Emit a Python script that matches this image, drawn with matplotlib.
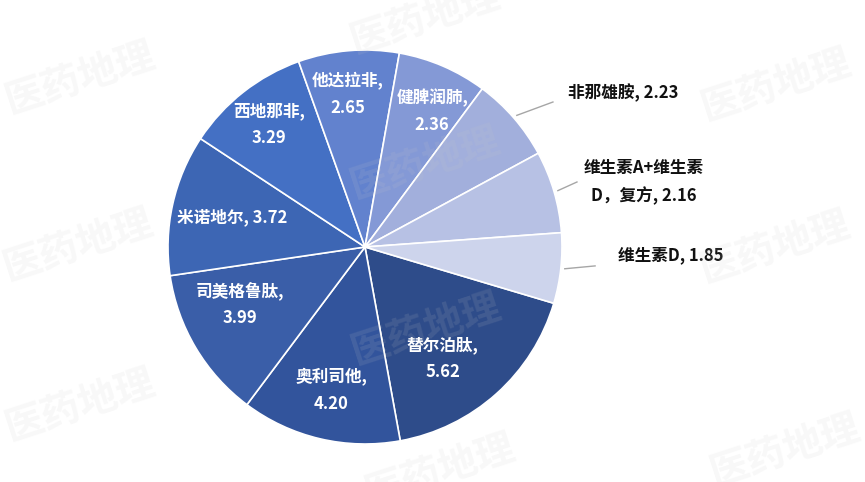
import numpy as np
import matplotlib.pyplot as plt

plt.rcParams['font.family'] = ['Noto Sans CJK SC', 'DejaVu Sans']

names = ['替尔泊肽', '奥利司他', '司美格鲁肽', '米诺地尔', '西地那非',
         '他达拉非', '健脾润肺', '非那雄胺', '维生素A+维生素D，复方', '维生素D']
values = [5.62, 4.20, 3.99, 3.72, 3.29, 2.65, 2.36, 2.23, 2.16, 1.85]
colors = ['#2E4C8A', '#32549C', '#3A5EA8', '#3D66B4', '#4470C4',
          '#6282CE', '#8499D6', '#A2AFDC', '#B7C1E4', '#CDD4EC']

# label layout: inside labels sit at radius r, nudged by angle (deg)
inside_r = [0.69, 0.75, 0.70, 0.69, 0.79, 0.78, 0.77]
inside_nudge = [-7, 0, -6, 0, 0, 1.7, -3]
# outside labels: elbow of leader line and text anchor (data units)
outside_elbow = [(0.954, 0.736), (1.076, 0.330), (1.168, -0.096)]
outside_text = [(1.030, 0.782), (1.416, 0.330), (1.284, -0.041)]
outside_ha = ['left', 'center', 'left']

R_PX = 197
fig = plt.figure(figsize=(8.65, 4.82), dpi=100)
ax = fig.add_axes([0, 0, 1, 1])
wedges, _ = ax.pie(values, colors=colors, startangle=-16.6, counterclock=False,
                   wedgeprops=dict(edgecolor='white', linewidth=1.2))
ax.set_aspect('auto')
ax.set_xlim(-365 / R_PX, 500 / R_PX)
ax.set_ylim(-235 / R_PX, 247 / R_PX)
ax.axis('off')


def put_lines(x, y, lines, color, ha='center', gap=27):
    n = len(lines)
    for i, s in enumerate(lines):
        off = (n - 1) / 2 * gap - i * gap
        ax.annotate(s, (x, y), xytext=(0, off), textcoords='offset pixels',
                    ha=ha, va='center', color=color, fontsize=12,
                    fontweight='bold')


for i, w in enumerate(wedges):
    name, v = names[i], values[i]
    mid = (w.theta1 + w.theta2) / 2
    if i < len(inside_r):
        a = np.deg2rad(mid + inside_nudge[i])
        x, y = inside_r[i] * np.cos(a), inside_r[i] * np.sin(a)
        if name == '米诺地尔':
            lines = [f'{name}, {v:.2f}']
        else:
            lines = [name + ',', f'{v:.2f}']
        put_lines(x, y, lines, 'white')
    else:
        k = i - len(inside_r)
        a = np.deg2rad(mid)
        ex, ey = outside_elbow[k]
        ax.plot([1.02 * np.cos(a), ex], [1.02 * np.sin(a), ey],
                color='#A6A6A6', lw=1)
        if len(name) > 8:
            lines = [name[:8], name[8:] + f', {v:.2f}']
        else:
            lines = [f'{name}, {v:.2f}']
        tx, ty = outside_text[k]
        put_lines(tx, ty, lines, '#111111', ha=outside_ha[k])

# watermark
marks = [(80, 78), (425, 18), (776, 85), (425, 163), (78, 245), (775, 247),
         (426, 329), (80, 405), (785, 450), (440, 470)]
for mx, my in marks:
    fig.text(mx / 865, 1 - my / 482, '医药地理', fontsize=28, fontweight='heavy',
             color='#c8c8c8', alpha=0.13, rotation=18, ha='center', va='center')

fig.savefig('out.png', dpi=100)
